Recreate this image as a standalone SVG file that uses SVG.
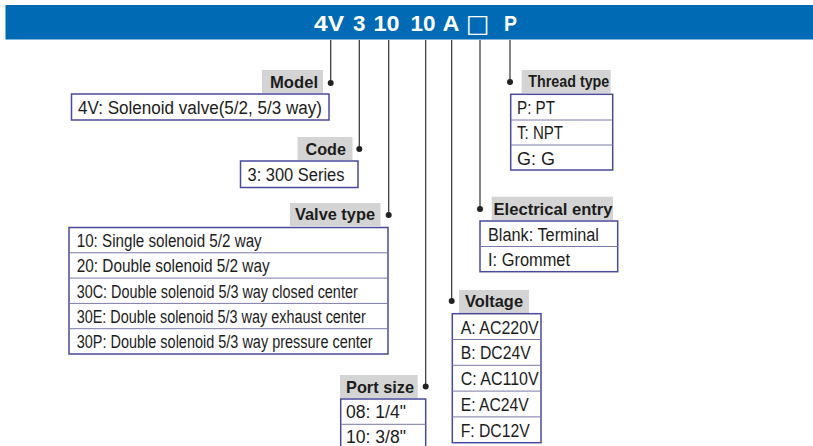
<svg xmlns="http://www.w3.org/2000/svg" width="813" height="446" viewBox="0 0 813 446">
<style>
text{font-family:"Liberation Sans",Arial,sans-serif;fill:#1c1c1c}
.t{font-size:22px;font-weight:bold;fill:#fff}
.h{font-size:16.5px;font-weight:bold}
.b{font-size:18px}
.hd{fill:#d4d4d4}
.tb{fill:#fff;stroke:#4a4a9c;stroke-width:1.5}
.sep{stroke:#7a7aaa;stroke-width:1}
.ln{stroke:#333;stroke-width:1.2;fill:none}
.dot{fill:#222}
</style>
<rect x="5.5" y="5" width="808" height="34.5" fill="#006ab5"/>
<g id="title">
<text class="t" x="314" y="31" textLength="30" lengthAdjust="spacingAndGlyphs">4V</text>
<text class="t" x="353" y="31" textLength="12.5" lengthAdjust="spacingAndGlyphs">3</text>
<text class="t" x="373.5" y="31" textLength="26" lengthAdjust="spacingAndGlyphs">10</text>
<text class="t" x="410.5" y="31" textLength="25" lengthAdjust="spacingAndGlyphs">10</text>
<text class="t" x="442.5" y="31" textLength="17" lengthAdjust="spacingAndGlyphs">A</text>
<text x="466" y="32" style="font-family:'DejaVu Sans',sans-serif;font-size:25px;fill:#fff">□</text>
<text class="t" x="504" y="31" textLength="13" lengthAdjust="spacingAndGlyphs">P</text>
</g>
<g id="connectors">
<path class="ln" d="M330.7 40V83M359.3 40V149M388.7 40V215M425.7 40V386.5M451.7 40V301M480 40V209M510 40V82"/>
<circle class="dot" cx="330.7" cy="83" r="3"/>
<circle class="dot" cx="359.3" cy="149" r="3"/>
<circle class="dot" cx="388.7" cy="215" r="3"/>
<circle class="dot" cx="425.7" cy="386.5" r="3"/>
<circle class="dot" cx="451.7" cy="301" r="3"/>
<circle class="dot" cx="480" cy="209" r="3"/>
<circle class="dot" cx="510" cy="82" r="3"/>
</g>
<g id="model">
<rect class="hd" x="262" y="70" width="61" height="23"/>
<text class="h" x="270" y="88" textLength="48" lengthAdjust="spacingAndGlyphs">Model</text>
<rect class="tb" x="71.5" y="94" width="257.5" height="26"/>
<text class="b" x="78" y="113.8" textLength="244" lengthAdjust="spacingAndGlyphs">4V: Solenoid valve(5/2, 5/3 way)</text>
</g>
<g id="code">
<rect class="hd" x="297.5" y="137" width="55" height="23"/>
<text class="h" x="305.5" y="155" textLength="40.5" lengthAdjust="spacingAndGlyphs">Code</text>
<rect class="tb" x="240.5" y="161" width="117.5" height="26.5"/>
<text class="b" x="247.5" y="180.8" textLength="97" lengthAdjust="spacingAndGlyphs">3: 300 Series</text>
</g>
<g id="valve-type">
<rect class="hd" x="290" y="203" width="90.5" height="23"/>
<text class="h" x="295" y="220" textLength="80" lengthAdjust="spacingAndGlyphs">Valve type</text>
<rect class="tb" x="69" y="227.5" width="319" height="126.5"/>
<path class="sep" d="M69 252.8H388M69 278.1H388M69 303.4H388M69 328.7H388"/>
<text class="b" x="76.7" y="247" textLength="185" lengthAdjust="spacingAndGlyphs">10: Single solenoid 5/2 way</text>
<text class="b" x="76.7" y="272.3" textLength="193" lengthAdjust="spacingAndGlyphs">20: Double solenoid 5/2 way</text>
<text class="b" x="76.7" y="297.6" textLength="281" lengthAdjust="spacingAndGlyphs">30C: Double solenoid 5/3 way closed center</text>
<text class="b" x="76.7" y="322.9" textLength="289" lengthAdjust="spacingAndGlyphs">30E: Double solenoid 5/3 way exhaust center</text>
<text class="b" x="76.7" y="348.2" textLength="296" lengthAdjust="spacingAndGlyphs">30P: Double solenoid 5/3 way pressure center</text>
</g>
<g id="port-size">
<rect class="hd" x="340" y="375" width="77.7" height="23.3"/>
<text class="h" x="346" y="393.3" textLength="68" lengthAdjust="spacingAndGlyphs">Port size</text>
<rect class="tb" x="340.7" y="399" width="85" height="60"/>
<path class="sep" d="M340.7 424.3H425.7"/>
<text class="b" x="346" y="418.3" textLength="60" lengthAdjust="spacingAndGlyphs">08: 1/4"</text>
<text class="b" x="346" y="443.3" textLength="60" lengthAdjust="spacingAndGlyphs">10: 3/8"</text>
</g>
<g id="voltage">
<rect class="hd" x="459" y="290" width="70" height="23"/>
<text class="h" x="465" y="306.7" textLength="58" lengthAdjust="spacingAndGlyphs">Voltage</text>
<rect class="tb" x="452.3" y="313.7" width="88.7" height="129"/>
<path class="sep" d="M452.3 339.5H541M452.3 365.3H541M452.3 391.1H541M452.3 416.9H541"/>
<text class="b" x="460.7" y="333.5" textLength="78" lengthAdjust="spacingAndGlyphs">A: AC220V</text>
<text class="b" x="460.7" y="359.3" textLength="70" lengthAdjust="spacingAndGlyphs">B: DC24V</text>
<text class="b" x="460.7" y="385.1" textLength="78" lengthAdjust="spacingAndGlyphs">C: AC110V</text>
<text class="b" x="460.7" y="410.9" textLength="68" lengthAdjust="spacingAndGlyphs">E: AC24V</text>
<text class="b" x="460.7" y="436.7" textLength="69" lengthAdjust="spacingAndGlyphs">F: DC12V</text>
</g>
<g id="electrical-entry">
<rect class="hd" x="491.7" y="196.7" width="121.3" height="23.3"/>
<text class="h" x="493.5" y="215" textLength="119" lengthAdjust="spacingAndGlyphs">Electrical entry</text>
<rect class="tb" x="480" y="221" width="137.7" height="50.7"/>
<path class="sep" d="M480 246.5H617.7"/>
<text class="b" x="488" y="240.7" textLength="111" lengthAdjust="spacingAndGlyphs">Blank: Terminal</text>
<text class="b" x="488" y="266.2" textLength="82" lengthAdjust="spacingAndGlyphs">I: Grommet</text>
</g>
<g id="thread-type">
<rect class="hd" x="521.7" y="70" width="89" height="23"/>
<text class="h" x="528.3" y="86.7" textLength="81" lengthAdjust="spacingAndGlyphs">Thread type</text>
<rect class="tb" x="510.7" y="94.3" width="102" height="75.7"/>
<path class="sep" d="M510.7 120H612.7M510.7 145H612.7"/>
<text class="b" x="517" y="113.7" textLength="38" lengthAdjust="spacingAndGlyphs">P: PT</text>
<text class="b" x="517" y="139.2" textLength="46" lengthAdjust="spacingAndGlyphs">T: NPT</text>
<text class="b" x="517" y="164.5" textLength="38" lengthAdjust="spacingAndGlyphs">G: G</text>
</g>
</svg>
